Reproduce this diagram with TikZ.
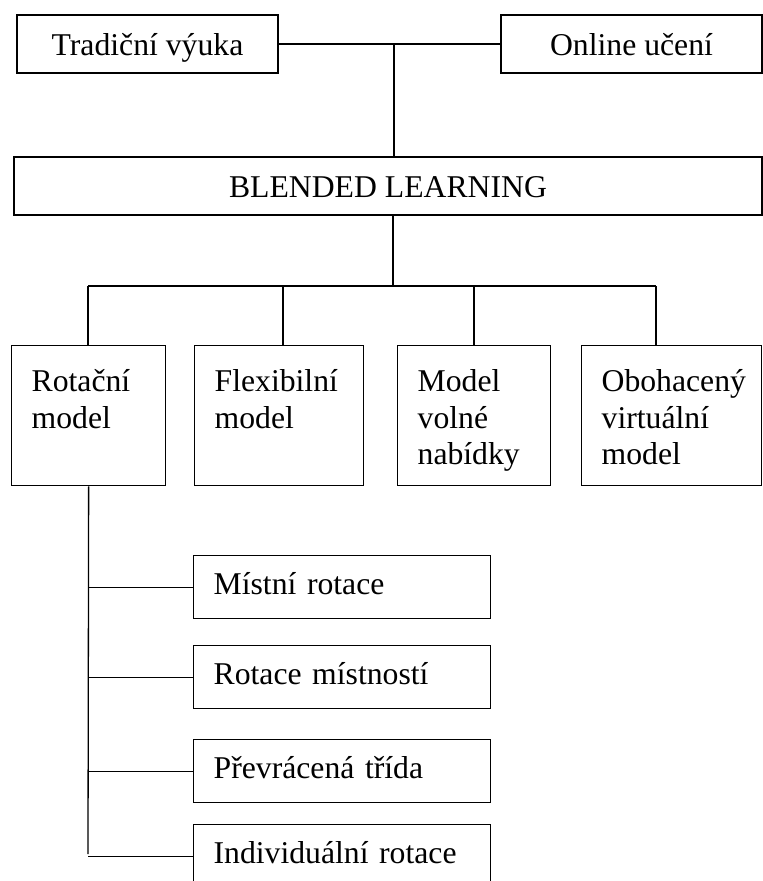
\documentclass[tikz,border=0pt]{standalone}
\usepackage{fontspec}
\setmainfont{Liberation Serif}
\usepackage{tikz}
\newcommand{\modeltext}[2]{\parbox[c][140pt][t]{#1}{\raggedright\rule{0pt}{46pt}#2}}

\begin{document}
\begin{tikzpicture}[x=1pt,y=-1pt,
    every node/.style={font=\fontsize{31.7}{36.5}\selectfont},
    topbox/.style={draw, line width=2pt, minimum height=58pt, inner sep=0pt, text height=23pt, text depth=0pt, anchor=north west},
    modelbox/.style={draw, line width=1.3pt, inner xsep=20pt, inner ysep=0pt, anchor=north west},
    subbox/.style={draw, line width=1.3pt, minimum width=297pt, minimum height=63pt, text width=257pt, align=left, inner xsep=20pt, inner ysep=0pt, text height=22pt, text depth=7pt, anchor=north west},
    link/.style={line width=1.3pt}]
  \clip (0,0) rectangle (763,881);
  \node[topbox, minimum width=261pt] (trad) at (16,14) {Tradiční výuka};
  \node[topbox, minimum width=261pt] (online) at (500,14) {Online učení};
  \node[topbox, minimum width=748pt] (blended) at (13,156) {BLENDED LEARNING};

  \node[modelbox] (rot) at (11,345) {\modeltext{114pt}{Rotační\\model}};
  \node[modelbox] (flex) at (194,345) {\modeltext{129pt}{Flexibilní\\model}};
  \node[modelbox] (volne) at (397,345) {\modeltext{113pt}{Model\\volné\\nabídky}};
  \node[modelbox] (obo) at (581,345) {\modeltext{140pt}{Obohacený\\virtuální\\model}};

  \node[subbox] (s1) at (193,555) {Místní rotace};
  \node[subbox] (s2) at (193,645) {Rotace místností};
  \node[subbox] (s3) at (193,739) {Převrácená třída};
  \node[subbox] (s4) at (193,824) {Individuální rotace};

  \coordinate (tjoin) at (394,43);
  \draw[link] (trad.east) -- (online.west);
  \draw[link] (tjoin) -- (tjoin |- blended.north);

  \coordinate (bjoin) at (393,286);
  \draw[link] (blended.south -| bjoin) -- (bjoin);
  \foreach \n/\x/\b in {d1/88/rot,d2/283/flex,d3/474/volne,d4/656/obo}{
    \coordinate (\n) at (\x,286);
    \draw[link] (\n) -- (\n |- \b.north);
  }
  \draw[link] (d1) -- (d4);

  \coordinate (trunk) at (88,854);
  \draw[link] (rot.south) -- (trunk);
  \foreach \s in {s1,s2,s3,s4}
    \draw[link] (\s.west -| trunk) -- (\s.west);
\end{tikzpicture}
\end{document}
